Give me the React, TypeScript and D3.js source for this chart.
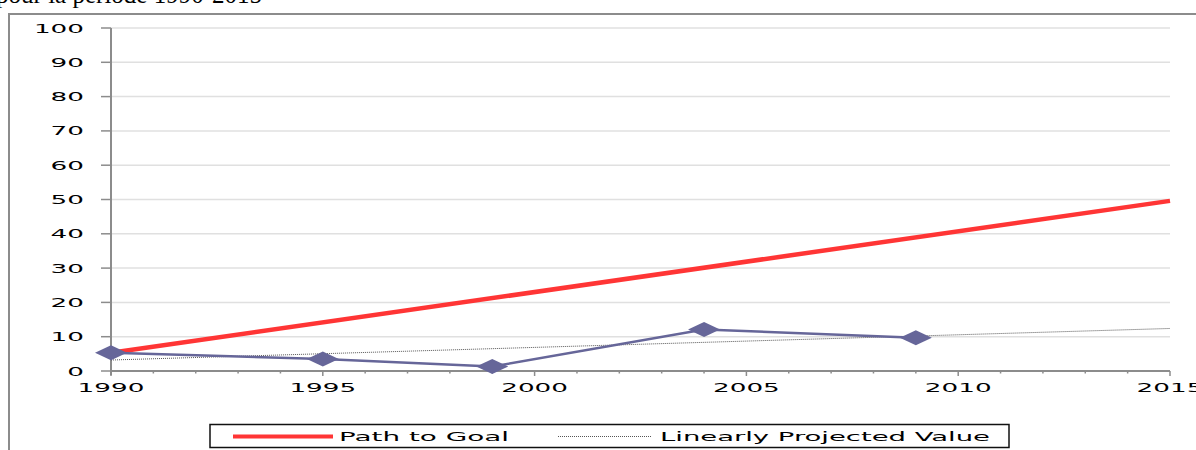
import React from "react";
import * as d3 from "d3";

const years = [1990, 1995, 1999, 2004, 2009];
const values = [5.3, 3.5, 1.3, 12.1, 9.7];
const goalYears = [1990, 2015];
const goalValues = [5.3, 49.6];
const projYears = [1990, 2015];
const projValues = [3.2, 12.4];
const yTicks = [0, 10, 20, 30, 40, 50, 60, 70, 80, 90, 100];
const xMajor = [1990, 1995, 2000, 2005, 2010, 2015];
const legendLabels = ["Path to Goal", "Linearly Projected Value"];
const titleText = "pour la période 1990-2015";

const W = 1196;
const H = 450;
const SX = 2.1;
const FONT = "'DejaVu Sans', sans-serif";

export default function App() {
  const x = d3.scaleLinear().domain([1990, 2015]).range([111, 1170]);
  const y = d3.scaleLinear().domain([0, 100]).range([371, 28]);
  const minor = d3.range(1990, 2016);
  const line = d3.line<[number, number]>().x((d) => x(d[0])).y((d) => y(d[1]));
  const series = years.map((t, i) => [t, values[i]] as [number, number]);
  const goal = goalYears.map((t, i) => [t, goalValues[i]] as [number, number]);
  const proj = projYears.map((t, i) => [t, projValues[i]] as [number, number]);
  const dw = 16;
  const dh = 7.5;

  return (
    <svg
      width={W}
      height={H}
      style={{ position: "absolute", left: 0, top: 0, background: "#fff" }}
    >
      <text
        x={262}
        y={3}
        textAnchor="end"
        fontFamily="'Liberation Serif', serif"
        fontSize={25}
        fill="#000"
      >
        {titleText}
      </text>
      {/* chart frame */}
      <rect x={9} y={14} width={W + 20} height={H + 20} fill="#fff" stroke="#8c8c8c" strokeWidth={2} />
      {/* gridlines */}
      {yTicks.filter((v) => v > 0).map((v) => (
        <line key={"g" + v} x1={x(1990)} x2={x(2015)} y1={y(v)} y2={y(v)} stroke="#e0e0e0" strokeWidth={1.5} />
      ))}
      {/* y axis */}
      <line x1={x(1990)} x2={x(1990)} y1={y(100)} y2={y(0) + 4} stroke="#8c8c8c" strokeWidth={2} />
      {yTicks.map((v) => (
        <g key={"y" + v}>
          <line x1={x(1990) - 10} x2={x(1990)} y1={y(v)} y2={y(v)} stroke="#8c8c8c" strokeWidth={1.5} />
          <g transform={`translate(84,${y(v)}) scale(${SX},1)`}>
            <text textAnchor="end" dy="0.36em" fontFamily={FONT} fontSize={12.5} fill="#000">
              {v}
            </text>
          </g>
        </g>
      ))}
      {/* x axis */}
      <line x1={x(1990)} x2={x(2015)} y1={y(0)} y2={y(0)} stroke="#8c8c8c" strokeWidth={2} />
      {minor.map((t) => (
        <line
          key={"m" + t}
          x1={x(t)}
          x2={x(t)}
          y1={y(0)}
          y2={y(0) + (t % 5 === 0 ? 5 : 2.5)}
          stroke="#8c8c8c"
          strokeWidth={1.5}
        />
      ))}
      {xMajor.map((t) => (
        <g key={"x" + t} transform={`translate(${x(t)},392) scale(${SX},1)`}>
          <text textAnchor="middle" fontFamily={FONT} fontSize={12.5} fill="#000">
            {t}
          </text>
        </g>
      ))}
      {/* projected */}
      <path d={line(proj) || ""} fill="none" stroke="#555" strokeWidth={1} strokeDasharray="1,1" />
      {/* goal */}
      <path d={line(goal) || ""} fill="none" stroke="#ff3535" strokeWidth={4.5} />
      {/* series */}
      <path d={line(series) || ""} fill="none" stroke="#666699" strokeWidth={2.5} />
      {series.map((d, i) => {
        const cx = x(d[0]);
        const cy = y(d[1]);
        return (
          <path
            key={"d" + i}
            d={`M${cx - dw},${cy}L${cx},${cy - dh}L${cx + dw},${cy}L${cx},${cy + dh}Z`}
            fill="#666699"
          />
        );
      })}
      {/* legend */}
      <rect x={210} y={424.5} width={799} height={23} fill="#fff" stroke="#111" strokeWidth={1.5} />
      <line x1={233} x2={333} y1={436.5} y2={436.5} stroke="#ff3535" strokeWidth={4} />
      <text
        x={339}
        y={441}
        fontFamily={FONT}
        fontSize={13}
        textLength={170}
        lengthAdjust="spacingAndGlyphs"
        fill="#000"
      >
        {legendLabels[0]}
      </text>
      <line x1={558} x2={652} y1={436.5} y2={436.5} stroke="#555" strokeWidth={1} strokeDasharray="1,1" />
      <text
        x={660}
        y={441}
        fontFamily={FONT}
        fontSize={13}
        textLength={330}
        lengthAdjust="spacingAndGlyphs"
        fill="#000"
      >
        {legendLabels[1]}
      </text>
    </svg>
  );
}
